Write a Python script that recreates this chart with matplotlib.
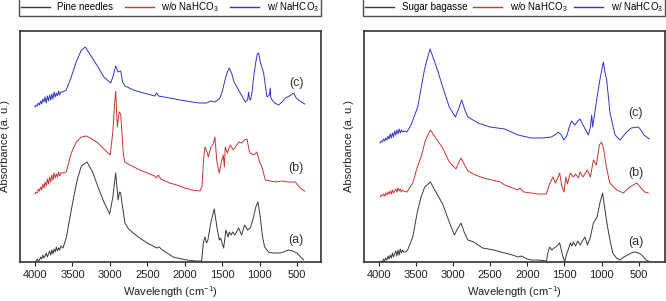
import matplotlib
matplotlib.use('Agg')
import matplotlib.pyplot as plt

plt.rcParams['font.family'] = ['Liberation Sans', 'DejaVu Sans']
plt.rcParams['mathtext.fontset'] = 'custom'
plt.rcParams['mathtext.rm'] = 'Liberation Sans'
plt.rcParams['mathtext.it'] = 'Liberation Sans'

# ---- left panel: pine needles ----
pine_a_wn = [4000, 3985, 3970, 3955, 3940, 3925, 3910, 3895, 3880, 3865, 3850, 3835, 3820, 3805, 3790, 3775,
             3760, 3745, 3730, 3715, 3700, 3685, 3670, 3655,
             3626, 3580, 3515, 3470, 3426, 3380, 3305, 3230, 3158, 3080, 3002, 2960, 2922, 2890, 2870,
             2855, 2830, 2798, 2750, 2687, 2600, 2500, 2374, 2340, 2300, 2153, 2100, 1974, 1850, 1773, 1750,
             1729, 1710, 1690, 1650, 1605, 1570, 1538, 1520, 1505, 1480, 1449, 1420, 1405, 1380, 1360, 1330,
             1279, 1240, 1199, 1160, 1124, 1080, 1050, 1021, 990, 960, 932, 880, 830, 790, 760, 720, 650, 611,
             560, 500, 450, 411]
pine_a = [0, 1, 3, 1, 2, 5, 3, 7, 4, 6, 9, 5, 8, 11, 7, 12,
          8, 13, 10, 15, 11, 14, 12, 16,
          14, 25, 52, 70, 85, 96, 100, 90, 75, 60, 48, 65, 89, 62, 70,
          69, 55, 39, 33, 29, 24, 19, 14, 15, 12, 5, 4, 2, 1, 1, 20,
          25, 19, 22, 40, 53, 35, 22, 24, 20, 14, 32, 25, 30, 27, 30, 27,
          34, 27, 37, 32, 34, 45, 55, 60, 45, 25, 15, 10, 9, 9, 9, 9, 11, 12,
          11, 9, 5, 2]

pine_b_wn = [4000, 3985, 3970, 3955, 3940, 3925, 3910, 3895, 3880, 3865, 3850, 3835, 3820, 3805, 3790, 3775,
             3760, 3745, 3730, 3715, 3700, 3685, 3670, 3655,
             3640, 3582, 3515, 3450, 3380, 3315, 3240, 3158, 3080, 2994, 2960, 2935, 2922, 2900, 2875, 2855,
             2835, 2820, 2800, 2731, 2600, 2500, 2400, 2380, 2353, 2320, 2200, 2107, 2000, 1900, 1796, 1770,
             1745, 1729, 1700, 1685, 1650, 1620, 1596, 1570, 1538, 1510, 1485, 1470, 1458, 1430, 1390, 1350,
             1279, 1240, 1200, 1168, 1140, 1124, 1080, 1034, 1000, 968, 923, 850, 790, 700, 620, 523, 480,
             440, 397]
pine_b = [68, 70, 69, 73, 71, 75, 72, 78, 74, 80, 76, 83, 78, 85, 80, 87,
          82, 89, 84, 88, 85, 90, 86, 89,
          89, 90, 109, 120, 125, 126, 123, 119, 113, 107, 130, 160, 171, 135, 150, 148,
          125, 108, 100, 97, 92, 89, 86, 84, 87, 83, 79, 77, 74, 72, 71, 75,
          105, 115, 110, 105, 115, 118, 125, 100, 89, 100, 107, 95, 115, 109, 117, 112,
          120, 119, 122, 123, 112, 109, 107, 110, 100, 95, 82, 81, 80, 81, 80, 80, 76,
          73, 71]

pine_c_wn = [4000, 3985, 3970, 3955, 3940, 3925, 3910, 3895, 3880, 3865, 3850, 3835, 3820, 3805, 3790, 3775,
             3760, 3745, 3730, 3715, 3700, 3685, 3670, 3655,
             3630, 3582, 3515, 3450, 3380, 3328, 3260, 3158, 3080, 2989, 2960, 2922, 2890, 2855, 2830, 2798,
             2740, 2687, 2600, 2500, 2400, 2374, 2350, 2200, 2063, 1900, 1800, 1707, 1650, 1600, 1560, 1529,
             1500, 1462, 1430, 1404, 1370, 1340, 1302, 1250, 1191, 1160, 1146, 1135, 1120, 1100, 1079, 1050,
             1030, 1012, 990, 945, 920, 901, 870, 857, 850, 800, 745, 700, 656, 600, 544, 510, 478, 440, 397]
pine_c = [155, 157, 156, 159, 157, 161, 158, 163, 160, 165, 159, 166, 161, 167, 162, 168,
          163, 170, 165, 169, 166, 171, 167, 170,
          170, 172, 185, 200, 212, 215, 207, 195, 185, 179, 185, 196, 190, 191, 180, 176,
          174, 172, 170, 168, 166, 169, 166, 164, 162, 160, 159, 159, 161, 160, 162, 164,
          170, 182, 190, 194, 188, 180, 175, 168, 160, 162, 170, 163, 162, 170, 185, 200,
          208, 209, 200, 189, 175, 165, 167, 174, 164, 159, 157, 160, 164, 166, 169, 164, 162, 160, 158]

# ---- right panel: sugar bagasse ----
sugar_a_wn = [3980, 3965, 3950, 3935, 3920, 3905, 3890, 3875, 3860, 3845, 3830, 3815, 3800, 3785, 3770, 3755,
              3740, 3725, 3710, 3695, 3680, 3665,
              3640, 3610, 3542, 3480, 3430, 3380, 3304, 3230, 3139, 3050, 2981, 2940, 2892, 2850, 2800, 2721,
              2600, 2452, 2304, 2200, 2125, 2080, 2000, 1945, 1850, 1743, 1720, 1698, 1670, 1640, 1600, 1564,
              1530, 1496, 1470, 1450, 1420, 1400, 1380, 1350, 1320, 1290, 1224, 1190, 1150, 1110, 1060, 1020,
              985, 960, 930, 895, 850, 800, 752, 700, 600, 550, 500, 460, 400, 370]
sugar_a = [0, 1, 0, 3, 1, 4, 2, 6, 3, 7, 4, 9, 5, 8, 11, 6,
           12, 7, 13, 9, 12, 10,
           10, 12, 25, 50, 65, 75, 80, 70, 58, 40, 27, 33, 39, 30, 22, 20,
           14, 12, 9, 7, 5, 6, 3, 2, 2, 1, 10, 15, 12, 14, 16, 19,
           8, 0, 8, 12, 19, 16, 20, 16, 21, 17, 25, 17, 25, 39, 45, 60,
           69, 55, 40, 25, 9, 4, 2, 5, 9, 10, 9, 7, 2, 1]

sugar_b_wn = [3980, 3965, 3950, 3935, 3920, 3905, 3890, 3875, 3860, 3845, 3830, 3815, 3800, 3785, 3770, 3755,
              3740, 3725, 3710, 3695, 3680, 3665,
              3620, 3542, 3480, 3430, 3370, 3304, 3250, 3139, 3050, 2960, 2920, 2892, 2850, 2800, 2700, 2587,
              2362, 2304, 2200, 2125, 2100, 2050, 1945, 1850, 1743, 1700, 1654, 1620, 1590, 1564, 1535, 1506,
              1480, 1460, 1420, 1380, 1350, 1310, 1290, 1250, 1191, 1150, 1110, 1070, 1029, 998, 970, 935,
              890, 796, 706, 620, 527, 480, 420, 370]
sugar_b = [65, 67, 66, 68, 66, 69, 67, 70, 68, 71, 68, 72, 69, 71, 73, 70,
           74, 71, 73, 70, 72, 71,
           70, 79, 95, 105, 122, 132, 126, 114, 100, 93, 100, 104, 98, 91, 87, 84,
           80, 77, 74, 72, 74, 70, 69, 68, 68, 78, 85, 79, 84, 89, 76, 70,
           85, 78, 89, 85, 88, 84, 90, 85, 92, 85, 102, 97, 117, 120, 112, 95,
           79, 72, 69, 75, 79, 75, 70, 69]

sugar_c_wn = [3982, 3965, 3950, 3935, 3920, 3905, 3890, 3875, 3860, 3845, 3830, 3815, 3800, 3785, 3770, 3755,
              3740, 3725, 3710, 3695, 3680, 3665,
              3620, 3565, 3475, 3385, 3340, 3309, 3270, 3200, 3139, 3050, 2968, 2930, 2883, 2840, 2798, 2663,
              2500, 2304, 2125, 1945, 1800, 1675, 1610, 1586, 1540, 1510, 1469, 1430, 1402, 1360, 1320, 1290,
              1250, 1177, 1150, 1133, 1120, 1066, 1030, 998, 975, 955, 931, 886, 819, 752, 662, 600, 504, 470,
              430, 356]
sugar_c = [119, 121, 120, 123, 121, 124, 122, 126, 123, 128, 124, 129, 125, 131, 127, 132,
           128, 133, 129, 132, 130, 131,
           130, 137, 155, 192, 205, 213, 205, 190, 175, 155, 145, 152, 162, 152, 145, 139,
           135, 133, 127, 124, 124, 125, 128, 130, 127, 122, 126, 136, 141, 137, 141, 143,
           137, 127, 135, 147, 135, 162, 179, 192, 200, 190, 182, 149, 127, 122, 130, 134, 135, 132,
           127, 123]

tick_vals = [4000, 3500, 3000, 2500, 2000, 1500, 1000, 500]
letters = ['(a)', '(b)', '(c)']

c_black = '#3a3a3a'
c_red = '#cc3333'
c_blue = '#3333cc'

fig = plt.figure(figsize=(6.66, 3.01), dpi=100)
ax1 = fig.add_axes([19.5 / 666, 39 / 301, 301.8 / 666, 231 / 301])
ax2 = fig.add_axes([363.7 / 666, 39 / 301, 301.3 / 666, 231 / 301])

panels = [
    (ax1, 'Pine needles', pine_a_wn, pine_a, pine_b_wn, pine_b, pine_c_wn, pine_c, (4207, 175), 513, [22, 94, 179]),
    (ax2, 'Sugar bagasse', sugar_a_wn, sugar_a, sugar_b_wn, sugar_b, sugar_c_wn, sugar_c, (4202, 146), 541, [20, 89, 149]),
]

for ax, name, aw, a, bw, b, cw, c, xl, lx, ly in panels:
    ax.plot(aw, a, color=c_black, lw=0.7, label=name)
    ax.plot(bw, b, color=c_red, lw=0.7, label='w/o NaHCO$_3$')
    ax.plot(cw, c, color=c_blue, lw=0.7, label='w/ NaHCO$_3$')
    ax.set_xlim(xl)
    ax.set_ylim(0, 231)
    ax.set_xticks(tick_vals)
    ax.set_yticks([])
    ax.tick_params(axis='x', direction='out', length=3, width=0.8, pad=3, labelsize=8, colors='#222222')
    for s in ax.spines.values():
        s.set_color('#333333')
        s.set_linewidth(1.2)
    ax.set_xlabel('Wavelength (cm$^{-1}$)', fontsize=8, labelpad=3, color='#222222')
    ax.set_ylabel('Absorbance (a. u.)', fontsize=8, labelpad=7, color='#222222')
    for lab, yy in zip(letters, ly):
        ax.text(lx, yy, lab, fontsize=9, ha='center', va='center', color='#333333')
    leg = ax.legend(ncol=3, loc='lower left', bbox_to_anchor=(-0.003, 1.065, 1.003, 0.056), mode='expand',
                    fontsize=7, frameon=True, fancybox=False, edgecolor='#222222', handlelength=3,
                    handletextpad=0.8, borderaxespad=0, borderpad=0.2)
    leg.get_frame().set_linewidth(1.0)
    for ln, col in zip(leg.get_lines(), [c_black, c_red, c_blue]):
        ln.set_color(col)
        ln.set_linewidth(1.0)

fig.savefig('out.png', dpi=100)
